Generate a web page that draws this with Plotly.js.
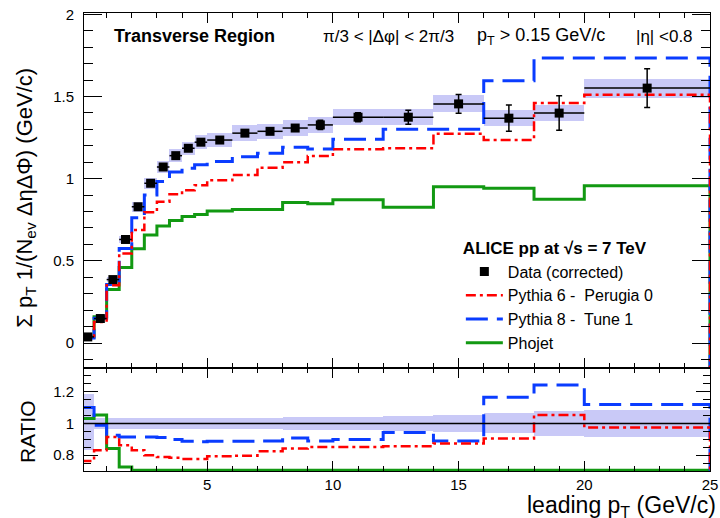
<!DOCTYPE html>
<html>
<head>
<meta charset="utf-8">
<script src="https://cdn.plot.ly/plotly-3.0.1.min.js"></script>
<style>html,body{margin:0;padding:0;background:#fff;}#chart{width:720px;height:518px;}</style>
</head>
<body>
<div id="chart"></div>
<script>
// ---- data ----
const binEdges = [0,0.5,1,1.5,2,2.5,3,3.5,4,4.5,5,6,7,8,9,10,12,14,16,18,20,25];

const dataY   = [0.037,0.149,0.386,0.630,0.829,0.972,1.071,1.140,1.185,1.222,1.235,1.277,1.288,1.308,1.327,1.374,1.374,1.455,1.368,1.399,1.551];
const statErr = [0.004,0.004,0.005,0.006,0.007,0.008,0.009,0.010,0.011,0.012,0.010,0.012,0.014,0.016,0.028,0.027,0.043,0.057,0.080,0.105,0.118];
const sysErr  = [0.006,0.006,0.014,0.023,0.030,0.034,0.036,0.039,0.040,0.042,0.045,0.047,0.047,0.047,0.047,0.048,0.049,0.052,0.048,0.050,0.058];

const pythia6 = [0.027,0.128,0.352,0.545,0.687,0.795,0.860,0.905,0.930,0.960,0.990,1.023,1.067,1.100,1.138,1.179,1.185,1.273,1.236,1.460,1.510];
const pythia8 = [0.030,0.150,0.356,0.575,0.762,0.900,0.982,1.040,1.063,1.085,1.104,1.134,1.155,1.191,1.180,1.240,1.300,1.300,1.596,1.734,1.734];
const phojet  = [0.036,0.160,0.326,0.460,0.573,0.657,0.712,0.745,0.770,0.782,0.803,0.813,0.813,0.855,0.848,0.872,0.826,0.951,0.941,0.874,0.957];

const ratioData    = [1,1,1,1,1,1,1,1,1,1,1,1,1,1,1,1,1,1,1,1,1];
const ratioSysLo   = [0.831,0.963,0.963,0.963,0.963,0.963,0.963,0.963,0.963,0.963,0.963,0.963,0.963,0.958,0.958,0.958,0.954,0.945,0.937,0.918,0.913];
const ratioSysHi   = [1.185,1.037,1.037,1.037,1.037,1.037,1.037,1.037,1.037,1.037,1.037,1.037,1.037,1.042,1.042,1.042,1.048,1.056,1.063,1.080,1.088];
const ratioPythia6 = [0.763,0.831,0.915,0.863,0.831,0.800,0.789,0.783,0.776,0.776,0.793,0.797,0.825,0.842,0.852,0.852,0.856,0.873,0.905,1.053,0.975];
const ratioPythia8 = [1.101,0.989,0.926,0.915,0.915,0.915,0.912,0.899,0.888,0.884,0.888,0.888,0.890,0.909,0.890,0.899,0.943,0.890,1.165,1.242,1.120];
const ratioPhojet  = [1.032,1.053,0.842,0.725,0.705,0.705,0.705,0.705,0.705,0.705,0.705,0.705,0.705,0.705,0.705,0.705,0.705,0.705,0.705,0.705,0.705];

const xTickVals = [5,10,15,20,25];

// ---- styling / helpers ----
const TOP_RANGE = [-0.152, 2.008];
const RATIO_RANGE = [0.7, 1.35];
const C_RED = '#ff0000', C_BLUE = '#0a3cff', C_GREEN = '#129912', C_BAND = '#c9c9f7';
const FONT = 'Liberation Sans, Arial, Helvetica, sans-serif';

const centers = binEdges.slice(0,-1).map((e,i)=> (e+binEdges[i+1])/2);
const widths  = binEdges.slice(0,-1).map((e,i)=> binEdges[i+1]-e);
const halfW   = widths.map(w=>w/2);

function step(vals, floor){
  const n = vals.length;
  return {
    x: binEdges.concat([binEdges[n]]),
    y: vals.concat([vals[n-1], floor])
  };
}
function stepTrace(vals, floor, color, width, dash, name, axes, showlegend, rank){
  const s = step(vals, floor);
  return {type:'scatter', mode:'lines', x:s.x, y:s.y, name:name,
    line:{shape:'hv', color:color, width:width, dash:dash},
    xaxis:axes[0], yaxis:axes[1], showlegend:showlegend, legendrank:rank, hoverinfo:'skip'};
}

const traces = [];
// top systematic band
traces.push({type:'bar', x:centers, width:widths, base:dataY.map((v,i)=>v-sysErr[i]),
  y:sysErr.map(s=>2*s), marker:{color:C_BAND, line:{width:0}}, showlegend:false,
  xaxis:'x', yaxis:'y', hoverinfo:'skip'});
// ratio band
traces.push({type:'bar', x:centers, width:widths, base:ratioSysLo,
  y:ratioSysHi.map((h,i)=>h-ratioSysLo[i]), marker:{color:C_BAND, line:{width:0}}, showlegend:false,
  xaxis:'x2', yaxis:'y2', hoverinfo:'skip'});

// models, top panel
traces.push(stepTrace(phojet,  TOP_RANGE[0], C_GREEN, 3,   'solid', 'Phojet', ['x','y'], true, 4));
traces.push(stepTrace(pythia8, TOP_RANGE[0], C_BLUE,  3,   '22px,9px', 'Pythia 8 -  Tune 1', ['x','y'], true, 3));
traces.push(stepTrace(pythia6, TOP_RANGE[0], C_RED,   2.5, '10px,4px,3px,4px', 'Pythia 6 -  Perugia 0', ['x','y'], true, 2));

// data, top panel
traces.push({type:'scatter', mode:'markers', x:centers, y:dataY, name:'Data (corrected)',
  marker:{symbol:'square', size:9, color:'#000'},
  error_y:{type:'data', array:statErr, color:'#000', thickness:1.5, width:3},
  error_x:{type:'data', array:halfW, color:'#000', thickness:1.5, width:0},
  xaxis:'x', yaxis:'y', legendrank:1, hoverinfo:'skip'});

// ratio panel
traces.push(stepTrace(ratioPhojet,  RATIO_RANGE[0], C_GREEN, 3,   'solid', 'Phojet r', ['x2','y2'], false, 10));
traces.push(stepTrace(ratioPythia8, RATIO_RANGE[0], C_BLUE,  3,   '22px,9px', 'P8 r', ['x2','y2'], false, 11));
traces.push(stepTrace(ratioPythia6, RATIO_RANGE[0], C_RED,   2.5, '10px,4px,3px,4px', 'P6 r', ['x2','y2'], false, 12));
traces.push({type:'scatter', mode:'lines', x:step(ratioData, 1).x.slice(0,-1), y:step(ratioData,1).y.slice(0,-1),
  line:{shape:'hv', color:'#000', width:1.5}, xaxis:'x2', yaxis:'y2', showlegend:false, hoverinfo:'skip'});

const xBase = {range:[0.1,25], tickvals:xTickVals, ticks:'inside', ticklen:10, tickwidth:1, tickcolor:'#000',
  showline:true, linecolor:'#000', linewidth:1, mirror:'allticks', showgrid:false, zeroline:false,
  minor:{dtick:1, tick0:0, ticks:'inside', ticklen:5, tickcolor:'#000', showgrid:false},
  tickfont:{family:FONT, size:15, color:'#000'}};

const layout = {
  width:720, height:518,
  margin:{l:84, r:10, t:13, b:47},
  paper_bgcolor:'#fff', plot_bgcolor:'#fff',
  barmode:'overlay', bargap:0,
  showlegend:true,
  font:{family:FONT, color:'#000'},
  xaxis: Object.assign({}, xBase, {domain:[0,1], anchor:'y', showticklabels:false}),
  xaxis2: Object.assign({}, xBase, {domain:[0,1], anchor:'y2', matches:'x', showticklabels:true, ticklabelstandoff:0}),
  yaxis: {domain:[0.2249,1], anchor:'x', range:TOP_RANGE, tick0:0, dtick:0.5, ticks:'inside', ticklen:18,
    tickcolor:'#000', showline:true, linecolor:'#000', linewidth:1, mirror:'allticks', showgrid:false, zeroline:false,
    minor:{dtick:0.1, tick0:0, ticks:'inside', ticklen:9, tickcolor:'#000', showgrid:false},
    tickfont:{family:FONT, size:15, color:'#000'}, ticklabelstandoff:6},
  yaxis2: {domain:[0,0.2249], anchor:'x2', range:RATIO_RANGE, tick0:0, dtick:0.2, ticks:'inside', ticklen:14,
    tickcolor:'#000', showline:true, linecolor:'#000', linewidth:1, mirror:'allticks', showgrid:false, zeroline:false,
    minor:{dtick:0.05, tick0:0, ticks:'inside', ticklen:7, tickcolor:'#000', showgrid:false},
    tickfont:{family:FONT, size:15, color:'#000'}, ticklabelstandoff:6},
  legend:{x:0.602, xanchor:'left', y:0.521, yanchor:'top', bgcolor:'rgba(0,0,0,0)', borderwidth:0,
    font:{family:FONT, size:16, color:'#000'}, itemwidth:37, tracegroupgap:0,
    title:{text:'<b>ALICE pp at √s = 7 TeV</b>', font:{family:FONT, size:17, color:'#000'}}},
  annotations:[
    {xref:'paper', yref:'paper', x:0.044, y:0.949, xanchor:'left', yanchor:'middle', showarrow:false,
     text:'<b>Transverse Region</b>', font:{family:FONT, size:18, color:'#000'}},
    {xref:'paper', yref:'paper', x:0.378, y:0.948, xanchor:'left', yanchor:'middle', showarrow:false,
     text:'π/3 < |Δφ| < 2π/3', font:{family:FONT, size:17, color:'#000'}},
    {xref:'paper', yref:'paper', x:0.625, y:0.948, xanchor:'left', yanchor:'middle', showarrow:false,
     text:'p<sub>T</sub> > 0.15 GeV/c', font:{family:FONT, size:18, color:'#000'}},
    {xref:'paper', yref:'paper', x:0.878, y:0.948, xanchor:'left', yanchor:'middle', showarrow:false,
     text:'|η| <0.8', font:{family:FONT, size:17, color:'#000'}},
    {xref:'paper', yref:'paper', x:-0.094, y:0.597, xanchor:'center', yanchor:'middle', showarrow:false, textangle:-90,
     text:'Σ p<sub>T</sub> 1/(N<sub>ev</sub> ΔηΔΦ) (GeV/c)', font:{family:FONT, size:22, color:'#000'}},
    {xref:'paper', yref:'paper', x:-0.091, y:0.085, xanchor:'center', yanchor:'middle', showarrow:false, textangle:-90,
     text:'RATIO', font:{family:FONT, size:21, color:'#000'}},
    {xref:'paper', yref:'paper', x:1.012, y:-0.041, xanchor:'right', yanchor:'top', showarrow:false,
     text:'leading p<sub>T</sub> (GeV/c)', font:{family:FONT, size:23, color:'#000'}}
  ]
};

Plotly.newPlot('chart', traces, layout, {displayModeBar:false, staticPlot:true});
</script>
</body>
</html>
